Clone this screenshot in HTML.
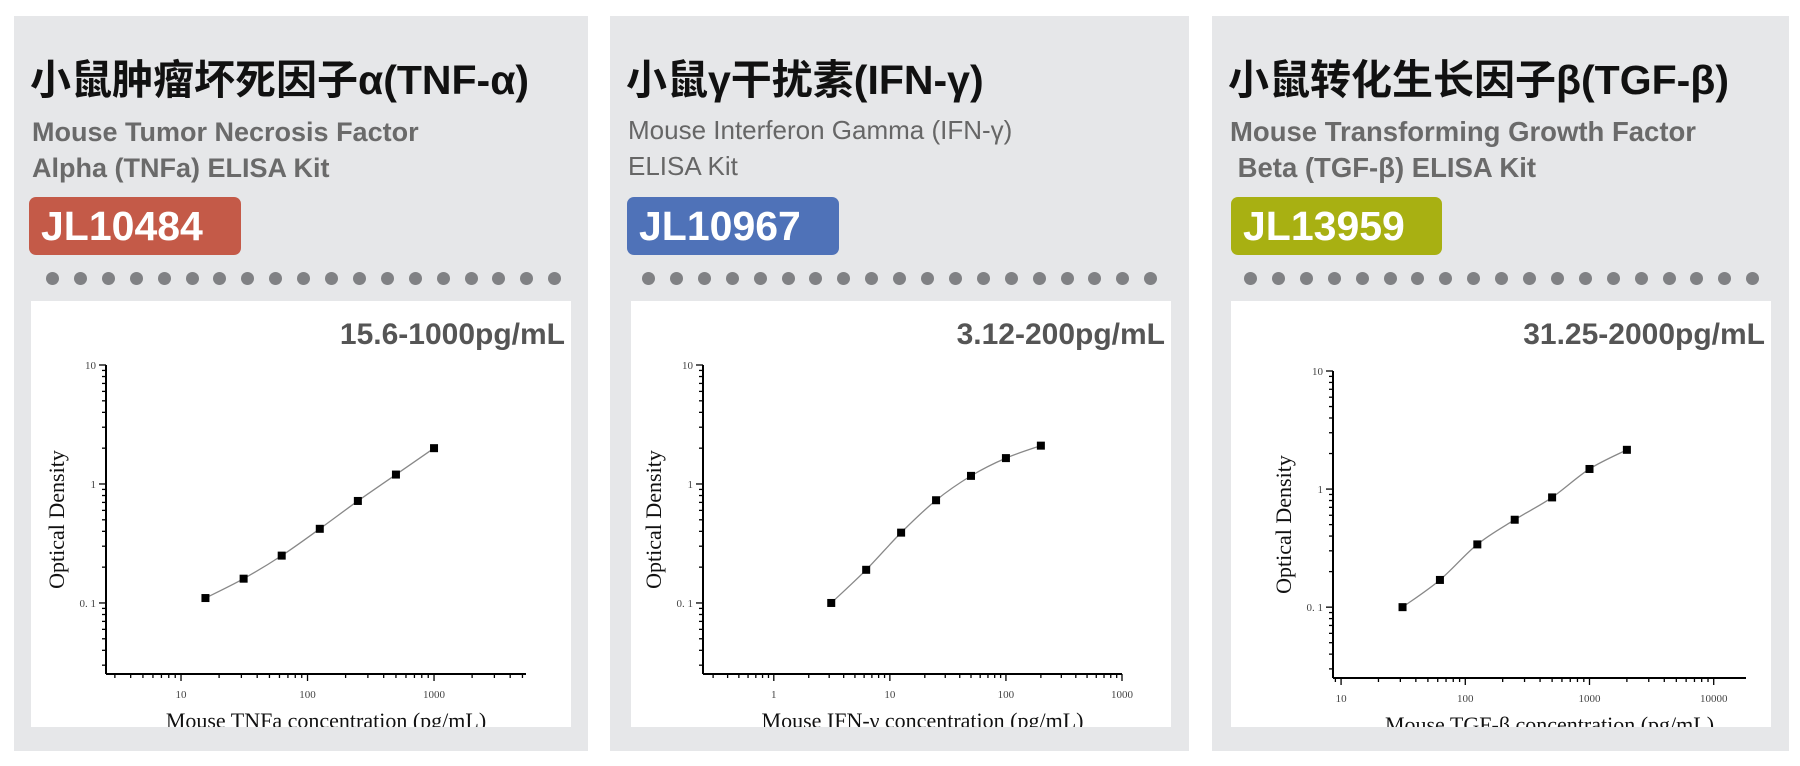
<!DOCTYPE html>
<html><head><meta charset="utf-8">
<style>
body{margin:0;width:1800px;height:766px;background:#fff;position:relative;overflow:hidden;font-family:"Liberation Sans","Noto Sans CJK SC",sans-serif;}
.panel{position:absolute;top:16px;height:735px;background:#e6e7e9;}
.title{position:absolute;left:16px;top:30px;font-size:41px;font-weight:bold;color:#111;white-space:nowrap;letter-spacing:0px;font-family:"Liberation Sans","Noto Sans CJK SC",sans-serif;}
.sub{position:absolute;left:18px;top:98px;font-size:27px;font-weight:bold;color:#6a6a6a;line-height:36px;white-space:nowrap;}
.badge{position:absolute;top:181px;height:58px;border-radius:7px;color:#fff;font-size:41px;font-weight:bold;line-height:58px;padding-left:12px;box-sizing:border-box;}
.dots{position:absolute;top:256px;left:32px;}
.dots span{position:absolute;width:13px;height:13px;border-radius:50%;background:#808184;}
.chartbox{position:absolute;top:285px;width:540px;height:426px;background:#fff;}
.range{position:absolute;right:6px;top:17px;font-size:30px;font-weight:bold;color:#555;}
svg{position:absolute;left:0;top:0;}
</style></head><body>

<div class="panel" style="left:14px;width:574px;">
  <div class="title">小鼠肿瘤坏死因子α(TNF-α)</div>
  <div class="sub">Mouse Tumor Necrosis Factor<br>Alpha (TNFa) ELISA Kit</div>
  <div class="badge" style="left:15px;width:212px;background:#c45a48;">JL10484</div>
  <div class="dots"></div>
  <div class="chartbox" style="left:17px;">
    <div class="range">15.6-1000pg/mL</div>
    <svg id="c1" width="540" height="426"></svg>
  </div>
</div>

<div class="panel" style="left:610px;width:579px;">
  <div class="title">小鼠γ干扰素(IFN-γ)</div>
  <div class="sub" style="font-weight:normal;font-size:26px;color:#666;top:96px;">Mouse Interferon Gamma (IFN-γ)<br>ELISA Kit</div>
  <div class="badge" style="left:17px;width:212px;background:#4f72b8;">JL10967</div>
  <div class="dots"></div>
  <div class="chartbox" style="left:21px;">
    <div class="range">3.12-200pg/mL</div>
    <svg id="c2" width="540" height="426"></svg>
  </div>
</div>

<div class="panel" style="left:1212px;width:577px;">
  <div class="title">小鼠转化生长因子β(TGF-β)</div>
  <div class="sub" style="font-size:27.5px;">Mouse Transforming Growth Factor<br>&nbsp;Beta (TGF-β) ELISA Kit</div>
  <div class="badge" style="left:19px;width:211px;background:#a8b012;">JL13959</div>
  <div class="dots"></div>
  <div class="chartbox" style="left:19px;">
    <div class="range">31.25-2000pg/mL</div>
    <svg id="c3" width="540" height="426"></svg>
  </div>
</div>

<script>
// Chart 1 data (TNF-α)
const tnfConc = [15.6, 31.25, 62.5, 125, 250, 500, 1000];
const tnfOD = [0.11, 0.16, 0.25, 0.42, 0.72, 1.2, 2.0];
const tnfXTicks = [10, 100, 1000];
// Chart 2 data (IFN-γ)
const ifnConc = [3.125, 6.25, 12.5, 25, 50, 100, 200];
const ifnOD = [0.1, 0.19, 0.39, 0.73, 1.17, 1.65, 2.1];
const ifnXTicks = [1, 10, 100, 1000];
// Chart 3 data (TGF-β)
const tgfConc = [31.25, 62.5, 125, 250, 500, 1000, 2000];
const tgfOD = [0.1, 0.17, 0.34, 0.55, 0.85, 1.48, 2.15];
const tgfXTicks = [10, 100, 1000, 10000];
const yTickLabels = ["10", "1", "0. 1"];
const yTickValues = [10, 1, 0.1];

document.querySelectorAll('.dots').forEach(d=>{
  for(let i=0;i<19;i++){
    const s=document.createElement('span');
    
    
    s.style.left=(i*27.9)+'px';
    d.appendChild(s);
  }
});

const NS='http://www.w3.org/2000/svg';
function mk(svg,tag,attrs,name){
  const e=document.createElementNS(NS,tag);
  for(const k in attrs) e.setAttribute(k,attrs[k]);
  
  
  svg.appendChild(e);return e;
}
function drawChart(id,cfg,conc,od,xticks,xtitle){
  const svg=document.getElementById(id);
  const {x0,x1,lx0,lx1,yTop,yBot,ly0,ly1}=cfg;
  const X=v=>x0+(Math.log10(v)-lx0)/(lx1-lx0)*(x1-x0);
  const Y=v=>yBot-(Math.log10(v)-ly0)/(ly1-ly0)*(yBot-yTop);
  mk(svg,'line',{x1:x0,y1:yTop,x2:x0,y2:yBot,stroke:'#000','stroke-width':2},'y-axis');
  mk(svg,'line',{x1:x0,y1:yBot,x2:x1,y2:yBot,stroke:'#000','stroke-width':2},'x-axis');
  // x ticks
  for(let d=Math.floor(lx0);d<=Math.ceil(lx1);d++){
    for(let m=1;m<10;m++){
      const v=m*Math.pow(10,d);const lv=Math.log10(v);
      if(lv<lx0||lv>lx1) continue;
      const x=X(v);
      mk(svg,'line',{x1:x,y1:yBot,x2:x,y2:yBot+(m===1?7:4),stroke:'#000','stroke-width':1.3},'x-tick');
    }
  }
  xticks.forEach(v=>{
    const t=mk(svg,'text',{x:X(v),y:yBot+24,'text-anchor':'middle','font-family':'Liberation Serif,serif','font-size':11,fill:'#444'},'x-tick-label');
    t.textContent=v;
  });
  // y ticks
  for(let d=Math.floor(ly0);d<=Math.ceil(ly1);d++){
    for(let m=1;m<10;m++){
      const v=m*Math.pow(10,d);const lv=Math.log10(v);
      if(lv<ly0||lv>ly1+1e-9) continue;
      const y=Y(v);
      mk(svg,'line',{x1:x0,y1:y,x2:x0-(m===1?7:4),y2:y,stroke:'#000','stroke-width':1.3},'y-tick');
    }
  }
  yTickValues.forEach((v,i)=>{
    const t=mk(svg,'text',{x:x0-10,y:Y(v)+4,'text-anchor':'end','font-family':'Liberation Serif,serif','font-size':11,fill:'#444'},'y-tick-label');
    t.textContent=yTickLabels[i];
  });
  const yt=mk(svg,'text',{x:0,y:0,transform:`translate(${x0-42},${(yTop+yBot)/2}) rotate(-90)`,'text-anchor':'middle','font-family':'Liberation Serif,serif','font-size':22,fill:'#111'},'y-axis-title');
  yt.textContent='Optical Density';
  const xt=mk(svg,'text',{x:(x0+x1)/2+10,y:yBot+54,'text-anchor':'middle','font-family':'Liberation Serif,serif','font-size':22,fill:'#111'},'x-axis-title');
  xt.textContent=xtitle;
  // curve (catmull-rom)
  const p=conc.map((c,i)=>[X(c),Y(od[i])]);
  let d=`M${p[0][0]},${p[0][1]}`;
  for(let i=0;i<p.length-1;i++){
    const a=p[Math.max(0,i-1)],b=p[i],c=p[i+1],e=p[Math.min(p.length-1,i+2)];
    d+=` C${b[0]+(c[0]-a[0])/6},${b[1]+(c[1]-a[1])/6} ${c[0]-(e[0]-b[0])/6},${c[1]-(e[1]-b[1])/6} ${c[0]},${c[1]}`;
  }
  mk(svg,'path',{d:d,fill:'none',stroke:'#888','stroke-width':1.3},'fit-curve');
  p.forEach(q=>mk(svg,'rect',{x:q[0]-4,y:q[1]-4,width:8,height:8,fill:'#000'},'data-point'));
}
drawChart('c1',{x0:75,x1:495,lx0:0.407,lx1:3.727,yTop:64,yBot:373,ly0:-1.597,ly1:1},tnfConc,tnfOD,tnfXTicks,'Mouse TNFa concentration (pg/mL)');
drawChart('c2',{x0:72,x1:491,lx0:-0.61,lx1:3,yTop:64,yBot:373,ly0:-1.597,ly1:1},ifnConc,ifnOD,ifnXTicks,'Mouse IFN-γ concentration (pg/mL)');
drawChart('c3',{x0:102,x1:515,lx0:0.935,lx1:4.26,yTop:70,yBot:377,ly0:-1.6,ly1:1},tgfConc,tgfOD,tgfXTicks,'Mouse TGF-β concentration (pg/mL)');
</script>
</body></html>
